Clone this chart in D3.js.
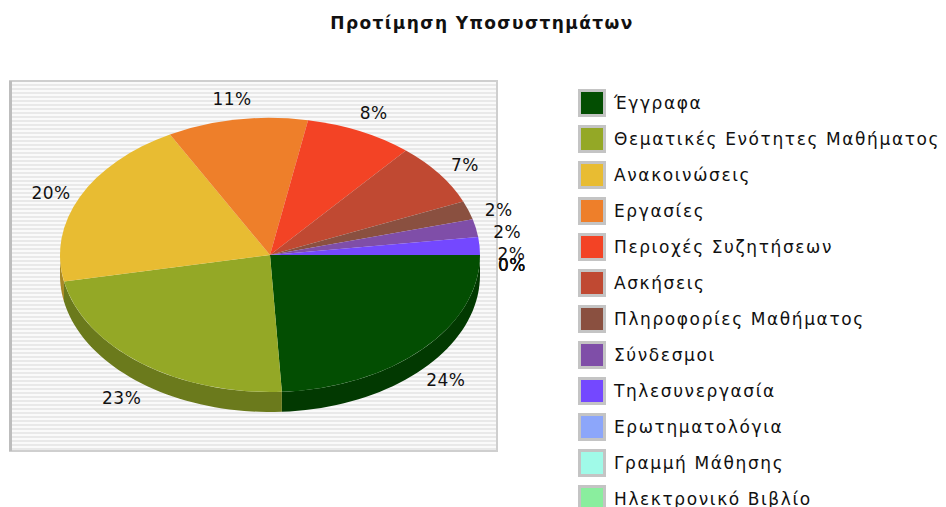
<!DOCTYPE html>
<html lang="el">
  <head>
    <meta charset="UTF-8" />
    <title>Προτίμηση Υποσυστημάτων</title>
    <style type="text/css">
      body {
        margin: 0;
        background: #ffffff;
      }
      text {
        font-family: "DejaVu Sans", sans-serif;
        fill: #111111;
      }
    </style>
  </head>
  <body>
    <div id="chart"></div>
    <script src="https://d3js.org/d3.v7.min.js"></script>
    <script>
      // data
      var categories = [
        "Έγγραφα",
        "Θεματικές Ενότητες Μαθήματος",
        "Ανακοινώσεις",
        "Εργασίες",
        "Περιοχές Συζητήσεων",
        "Ασκήσεις",
        "Πληροφορίες Μαθήματος",
        "Σύνδεσμοι",
        "Τηλεσυνεργασία",
        "Ερωτηματολόγια",
        "Γραμμή Μάθησης",
        "Ηλεκτρονικό Βιβλίο"
      ];
      var values = [24.1, 22.8, 20.2, 10.8, 8.3, 7.4, 2.2, 2.1, 2.1, 0, 0, 0];
      var colors = [
        "#034e02", "#94a826", "#e8bc32", "#ee7f2a", "#f34325", "#c04932",
        "#8a5040", "#7f4ea8", "#7448ff", "#8ca6fa", "#a0fae8", "#8aee9e"
      ];
      var title = "Προτίμηση Υποσυστημάτων";

      var W = 946, H = 507;
      var cx = 270, cy = 255, rx = 210, ry = 137, depth = 20;

      var svg = d3
        .select("#chart")
        .append("svg")
        .attr("width", W)
        .attr("height", H);

      // striped background pattern
      var pat = svg
        .append("defs")
        .append("pattern")
        .attr("id", "stripes")
        .attr("width", 8)
        .attr("height", 4)
        .attr("patternUnits", "userSpaceOnUse");
      pat.append("rect").attr("width", 8).attr("height", 4).attr("fill", "#fafafa");
      pat.append("rect").attr("width", 8).attr("height", 2).attr("fill", "#e9e9e9");

      svg
        .append("rect")
        .attr("x", 10)
        .attr("y", 81)
        .attr("width", 487)
        .attr("height", 370)
        .attr("fill", "url(#stripes)")
        .attr("stroke", "#cfcfcf")
        .attr("stroke-width", 2);
      svg
        .append("line")
        .attr("x1", 10.5).attr("x2", 10.5)
        .attr("y1", 81).attr("y2", 451)
        .attr("stroke", "#bdbdbd")
        .attr("stroke-width", 3);

      svg
        .append("text")
        .attr("x", 482)
        .attr("y", 29)
        .attr("text-anchor", "middle")
        .attr("font-size", "17px")
        .attr("font-weight", "bold")
        .attr("letter-spacing", "1.4px")
        .text(title);

      // pie layout, starting at 3 o'clock, clockwise
      var pie = d3
        .pie()
        .sort(null)
        .startAngle(Math.PI / 2)
        .endAngle(Math.PI / 2 + 2 * Math.PI);
      var arcs = pie(values);

      function pt(theta, dy) {
        return [cx + rx * Math.cos(theta), cy + ry * Math.sin(theta) + (dy || 0)];
      }

      // side walls (only the front half is visible)
      var sides = svg.append("g");
      arcs.forEach(function (d, i) {
        var t0 = Math.max(d.startAngle - Math.PI / 2, 0);
        var t1 = Math.min(d.endAngle - Math.PI / 2, Math.PI);
        if (t1 <= t0) return;
        var n = 40, p = d3.path(), k, t, q;
        for (k = 0; k <= n; k++) {
          t = t0 + ((t1 - t0) * k) / n;
          q = pt(t);
          if (k === 0) p.moveTo(q[0], q[1]);
          else p.lineTo(q[0], q[1]);
        }
        for (k = n; k >= 0; k--) {
          t = t0 + ((t1 - t0) * k) / n;
          q = pt(t, depth);
          p.lineTo(q[0], q[1]);
        }
        p.closePath();
        sides
          .append("path")
          .attr("d", p.toString())
          .attr("fill", d3.color(colors[i]).darker(0.9));
      });

      // top surface
      var arc = d3.arc().innerRadius(0).outerRadius(rx);
      svg
        .append("g")
        .attr("transform", "translate(" + cx + "," + cy + ") scale(1," + ry / rx + ")")
        .selectAll("path")
        .data(arcs)
        .enter()
        .append("path")
        .attr("d", arc)
        .attr("fill", function (d, i) {
          return colors[i];
        });

      // percent labels
      var total = d3.sum(values);
      var lrx = rx + 32, lry = ry + 31, lcy = cy + depth / 2;
      svg
        .append("g")
        .selectAll("text")
        .data(arcs)
        .enter()
        .append("text")
        .attr("x", function (d) {
          var m = (d.startAngle + d.endAngle) / 2 - Math.PI / 2;
          return cx + lrx * Math.cos(m);
        })
        .attr("y", function (d) {
          var m = (d.startAngle + d.endAngle) / 2 - Math.PI / 2;
          return lcy + lry * Math.sin(m);
        })
        .attr("text-anchor", "middle")
        .attr("dominant-baseline", "central")
        .attr("font-size", "17px")
        .attr("letter-spacing", "0.5px")
        .text(function (d) {
          return Math.round((d.value / total) * 100) + "%";
        });

      // legend
      var legend = svg
        .append("g")
        .selectAll("g")
        .data(categories)
        .enter()
        .append("g")
        .attr("transform", function (d, i) {
          return "translate(578," + (103 + i * 36) + ")";
        });
      legend
        .append("rect")
        .attr("x", 1.5)
        .attr("y", -12.5)
        .attr("width", 25)
        .attr("height", 25)
        .attr("fill", function (d, i) {
          return colors[i];
        })
        .attr("stroke", "#c4c4c4")
        .attr("stroke-width", 3);
      legend
        .append("text")
        .attr("x", 36)
        .attr("y", 0)
        .attr("dominant-baseline", "central")
        .attr("font-size", "17px")
        .attr("letter-spacing", "1.6px")
        .text(function (d) {
          return d;
        });
    </script>
  </body>
</html>
